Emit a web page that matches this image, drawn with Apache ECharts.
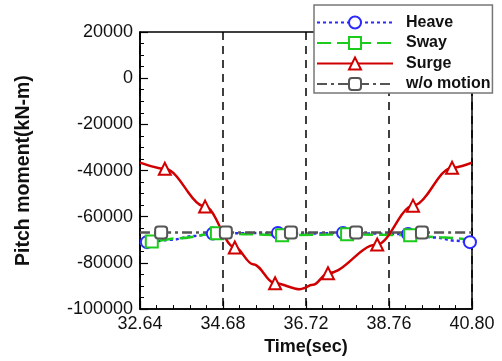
<!DOCTYPE html>
<html>
<head>
<meta charset="utf-8">
<script src="https://cdn.jsdelivr.net/npm/echarts@6/dist/echarts.min.js"></script>
<style>html,body{margin:0;padding:0;background:#fff;}#c{width:502px;height:361px;}</style>
</head>
<body>
<div id="c"></div>
<script>
// ---- data ----
const seriesNames = ['Heave', 'Sway', 'Surge', 'w/o motion'];

const heaveTime = [32.64, 32.81, 33.40, 34.00, 34.43, 35.20, 36.03, 36.80, 37.63, 38.40, 39.23, 39.90, 40.40, 40.75, 40.80];
const heaveVal  = [-71500, -71000, -70000, -68300, -67300, -67100, -67000, -67300, -67000, -67300, -67500, -69000, -70400, -71000, -71100];
const heaveMark = [0, 1, 0, 0, 1, 0, 1, 0, 1, 0, 1, 0, 0, 1, 0];

const swayTime = [32.64, 32.93, 33.60, 34.53, 35.30, 36.13, 36.90, 37.73, 38.50, 39.28, 40.00, 40.80];
const swayVal  = [-71800, -70700, -69300, -67200, -67600, -68000, -67800, -67600, -67800, -68000, -68900, -70100];
const swayMark = [0, 1, 0, 1, 0, 1, 0, 1, 0, 1, 0, 0];

const surgeTime = [32.64, 33.25, 34.24, 34.97, 35.42, 35.96, 36.57, 36.89, 37.26, 38.47, 39.35, 40.31, 40.80];
const surgeVal  = [-36600, -39200, -55600, -73300, -80600, -88800, -91400, -89500, -84500, -72000, -55200, -38800, -36600];
const surgeMark = [0, 1, 1, 1, 0, 1, 0, 0, 1, 1, 1, 1, 0];

const noMotionTime = [32.64, 33.16, 34.75, 36.35, 37.95, 39.57, 40.80];
const noMotionVal  = [-66800, -66800, -66800, -66800, -66800, -66800, -66800];
const noMotionMark = [0, 1, 1, 1, 1, 1, 0];

const xMin = 32.64, xMax = 40.80, xStep = 2.04;
const yMin = -100000, yMax = 20000, yStep = 20000;
const xAxisTitle = 'Time(sec)';
const yAxisTitle = 'Pitch moment(kN-m)';

// ---- build ----
function build(t, v, m) {
  return t.map((x, i) => m[i] ? { value: [x, v[i]] } : { value: [x, v[i]], symbol: 'none' });
}
const FONT = 'Arial, "Liberation Sans", sans-serif';
const chart = echarts.init(document.getElementById('c'));

function lineSeries(name, data, color, dash, symbol, width) {
  return {
    name: name, type: 'line', data: data,
    smooth: 0.35, smoothMonotone: 'x',
    showSymbol: true, showAllSymbol: true,
    symbol: symbol, symbolSize: 12,
    lineStyle: { color: color, width: width, type: dash },
    itemStyle: { color: '#fff', borderColor: color, borderWidth: 2 },
    emphasis: { disabled: true }
  };
}

const option = {
  animation: false,
  backgroundColor: '#fff',
  grid: { left: 140, right: 30, top: 32, bottom: 51, show: true, borderColor: '#000', borderWidth: 1.5, backgroundColor: 'transparent' },
  legend: {
    orient: 'vertical', left: 314, top: 5,
    padding: [9.5, 2, 1, 2],
    itemWidth: 76, itemHeight: 15, itemGap: 4.5,
    backgroundColor: '#fff', borderColor: '#777', borderWidth: 1.5,
    textStyle: { fontFamily: FONT, fontWeight: 'bold', fontSize: 16, color: '#111', padding: [0, 0, 0, 8] },
    data: seriesNames
  },
  xAxis: {
    type: 'value', min: xMin, max: xMax, interval: xStep,
    name: xAxisTitle, nameLocation: 'middle', nameGap: 28,
    nameTextStyle: { fontFamily: FONT, fontWeight: 'bold', fontSize: 18, color: '#111' },
    axisLine: { show: true, onZero: false, lineStyle: { color: '#000', width: 1.5 } },
    axisTick: { show: true, inside: true, length: 8, lineStyle: { color: '#000', width: 1.2 } },
    minorTick: { show: true, splitNumber: 5, length: 4, lineStyle: { color: '#000', width: 1 } },
    axisLabel: { fontFamily: FONT, fontSize: 18, color: '#111', margin: 6, formatter: v => v.toFixed(2) },
    splitLine: { show: true, lineStyle: { color: '#000', width: 1.5, type: [8, 6] } }
  },
  yAxis: {
    type: 'value', min: yMin, max: yMax, interval: yStep,
    name: yAxisTitle, nameLocation: 'middle', nameGap: 106,
    nameTextStyle: { fontFamily: FONT, fontWeight: 'bold', fontSize: 19.5, color: '#111' },
    axisLine: { show: true, onZero: false, lineStyle: { color: '#000', width: 1.5 } },
    axisTick: { show: true, inside: true, length: 8, lineStyle: { color: '#000', width: 1.2 } },
    minorTick: { show: true, splitNumber: 4, length: 4, lineStyle: { color: '#000', width: 1 } },
    axisLabel: { fontFamily: FONT, fontSize: 18, color: '#111', margin: 7, formatter: v => String(Math.round(v)) },
    splitLine: { show: false }
  },
  series: [
    lineSeries(seriesNames[0], build(heaveTime, heaveVal, heaveMark), '#2a2aff', [3, 3], 'circle', 2.5),
    lineSeries(seriesNames[1], build(swayTime, swayVal, swayMark), '#1ccc1c', [14, 6], 'rect', 2.5),
    lineSeries(seriesNames[2], build(surgeTime, surgeVal, surgeMark), '#d00000', [20, 0], 'triangle', 2.5),
    lineSeries(seriesNames[3], build(noMotionTime, noMotionVal, noMotionMark), '#555555', [10, 4, 3, 4], 'roundRect', 2.5)
  ]
};
chart.setOption(option);
</script>
</body>
</html>
